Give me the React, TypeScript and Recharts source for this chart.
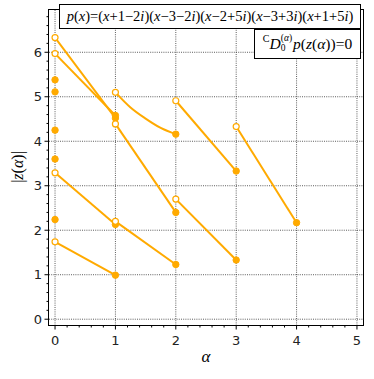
import React from 'react';
import { ComposedChart, Line, Scatter, XAxis, YAxis, CartesianGrid } from 'recharts';

// axis ticks
const majorX = [0, 1, 2, 3, 4, 5];
const minorX = [0.2, 0.4, 0.6, 0.8, 1.2, 1.4, 1.6, 1.8, 2.2, 2.4, 2.6, 2.8, 3.2, 3.4, 3.6, 3.8, 4.2, 4.4, 4.6, 4.8];
const majorY = [0, 1, 2, 3, 4, 5, 6];
const minorY = [0.2, 0.4, 0.6, 0.8, 1.2, 1.4, 1.6, 1.8, 2.2, 2.4, 2.6, 2.8, 3.2, 3.4, 3.6, 3.8, 4.2, 4.4, 4.6, 4.8, 5.2, 5.4, 5.6, 5.8, 6.2, 6.4, 6.6, 6.8];

// root trajectories |z(alpha)| over alpha, start (open) -> end (filled)
const seg1 = [{ a: 0, z: 6.33 }, { a: 1, z: 4.52 }];
const seg2 = [{ a: 0, z: 5.97 }, { a: 1, z: 4.58 }];
const seg3 = [{ a: 0, z: 3.29 }, { a: 1, z: 2.13 }];
const seg4 = [{ a: 0, z: 1.74 }, { a: 1, z: 0.99 }];
const seg5 = [{ a: 1, z: 5.1 }, { a: 1.25, z: 4.76 }, { a: 1.5, z: 4.51 }, { a: 1.75, z: 4.3 }, { a: 2, z: 4.16 }];
const seg6 = [{ a: 1, z: 4.39 }, { a: 2, z: 2.4 }];
const seg7 = [{ a: 1, z: 2.2 }, { a: 2, z: 1.23 }];
const seg8 = [{ a: 2, z: 4.91 }, { a: 3, z: 3.33 }];
const seg9 = [{ a: 2, z: 2.7 }, { a: 3, z: 1.33 }];
const seg10 = [{ a: 3, z: 4.33 }, { a: 4, z: 2.17 }];
const segments = [seg1, seg2, seg3, seg4, seg5, seg6, seg7, seg8, seg9, seg10];

// lone filled points at alpha = 0
const lonePoints = [
  { a: 0, z: 5.38 },
  { a: 0, z: 5.11 },
  { a: 0, z: 4.25 },
  { a: 0, z: 3.6 },
  { a: 0, z: 2.24 },
];

const polyText = 'p(x)=(x+1−2i)(x−3−2i)(x−2+5i)(x−3+3i)(x+1+5i)';

const ORANGE = '#FFAA00';
const W = 374;
const H = 379;
const PL = 49, PT = 10, PR = 363, PB = 325;

const mathify = (s: string) =>
  s.split('').map((c, i) => (/[a-z]/.test(c) ? <i key={i}>{c}</i> : <span key={i}>{c}</span>));

const XTick = (props: any) => {
  const { x, y, payload } = props;
  const major = majorX.includes(payload.value);
  return (
    <g>
      <line x1={x} x2={x} y1={y} y2={y + (major ? 4.5 : 2.5)} stroke="#000" strokeWidth={1} />
      {major && (
        <text x={x} y={y + 20} textAnchor="middle" fontSize={13} fill="#222" fontFamily="DejaVu Sans">
          {payload.value}
        </text>
      )}
    </g>
  );
};

const YTick = (props: any) => {
  const { x, y, payload } = props;
  const major = majorY.includes(payload.value);
  return (
    <g>
      <line x1={x - (major ? 4.5 : 2.5)} x2={x} y1={y} y2={y} stroke="#000" strokeWidth={1} />
      {major && (
        <text x={x - 7} y={y} dy="0.36em" textAnchor="end" fontSize={13} fill="#222" fontFamily="DejaVu Sans">
          {payload.value}
        </text>
      )}
    </g>
  );
};

const makeDot = (len: number) => (props: any) => {
  const { cx, cy, index } = props;
  if (index === 0)
    return <circle key={`d${index}`} cx={cx} cy={cy} r={3} fill="#fff" stroke={ORANGE} strokeWidth={1.2} />;
  if (index === len - 1)
    return <circle key={`d${index}`} cx={cx} cy={cy} r={3.2} fill={ORANGE} stroke={ORANGE} strokeWidth={1} />;
  return <g key={`d${index}`} />;
};

const LoneDot = (props: any) => (
  <circle cx={props.cx} cy={props.cy} r={3.2} fill={ORANGE} stroke={ORANGE} strokeWidth={1} />
);

export default function App() {
  return (
    <div style={{ position: 'absolute', left: 0, top: 0, width: W, height: H, background: '#fff' }}>
      <ComposedChart width={W} height={H} margin={{ top: PT, right: W - PR, left: 0, bottom: 0 }}>
        <CartesianGrid
          verticalValues={majorX}
          horizontalValues={majorY}
          stroke="#333"
          strokeWidth={0.8}
          strokeDasharray="1 1.2"
        />
        <XAxis
          type="number"
          dataKey="a"
          domain={[-0.1, 5.1]}
          ticks={[...majorX, ...minorX].sort((p, q) => p - q)}
          interval={0}
          allowDataOverflow
          axisLine={false}
          tickLine={false}
          tickSize={0}
          tickMargin={0}
          height={H - PB}
          tick={<XTick />}
        />
        <YAxis
          type="number"
          dataKey="z"
          domain={[-0.13, 6.95]}
          ticks={[...majorY, ...minorY].sort((p, q) => p - q)}
          interval={0}
          allowDataOverflow
          axisLine={false}
          tickLine={false}
          tickSize={0}
          tickMargin={0}
          width={PL}
          tick={<YTick />}
        />
        {segments.map((s, i) => (
          <Line
            key={i}
            data={s}
            dataKey="z"
            type={s.length > 2 ? 'monotone' : 'linear'}
            stroke={ORANGE}
            strokeWidth={2}
            dot={makeDot(s.length)}
            activeDot={false}
            isAnimationActive={false}
          />
        ))}
        <Scatter data={lonePoints} dataKey="z" fill={ORANGE} shape={<LoneDot />} isAnimationActive={false}
          legendType="none" />
      </ComposedChart>

      {/* frame */}
      <div
        style={{
          position: 'absolute', left: PL - 0.75, top: PT - 0.75, width: PR - PL, height: PB - PT,
          border: '1.5px solid #000', pointerEvents: 'none',
        }}
      />

      {/* axis labels */}
      <div style={{ position: 'absolute', left: 0, width: W, paddingLeft: PL, top: 347, boxSizing: 'border-box' }}>
        <div style={{ width: PR - PL, textAlign: 'center', fontFamily: 'Liberation Serif', fontStyle: 'italic', fontSize: 17 }}>α</div>
      </div>
      <div
        style={{
          position: 'absolute', left: 17.5, top: 167, transform: 'translate(-50%, -50%) rotate(-90deg)',
          fontFamily: 'Liberation Serif', fontSize: 16, whiteSpace: 'nowrap',
        }}
      >
        |<i>z</i>(<i>α</i>)|
      </div>

      {/* legend boxes */}
      <div
        style={{
          position: 'absolute', left: 59, top: 4, width: 302, height: 25, boxSizing: 'border-box',
          border: '1.5px solid #000', background: '#fff', fontFamily: 'Liberation Serif', fontSize: 14.5,
          display: 'flex', alignItems: 'center', justifyContent: 'center', whiteSpace: 'nowrap',
        }}
      >
        {mathify(polyText)}
      </div>
      <div
        style={{
          position: 'absolute', left: 254, top: 28.5, width: 107, height: 30, boxSizing: 'border-box',
          border: '1.5px solid #000', background: '#fff', fontFamily: 'Liberation Serif', fontSize: 15.5,
          display: 'flex', alignItems: 'center', justifyContent: 'center', whiteSpace: 'nowrap',
        }}
      >
        <span style={{ fontSize: 10, position: 'relative', top: -5 }}>C</span>
        <i>D</i>
        <span style={{ display: 'inline-flex', flexDirection: 'column', fontSize: 9.5, lineHeight: 1, marginRight: 1 }}>
          <span>
            (<i>α</i>)
          </span>
          <span>0</span>
        </span>
        <i>p</i>(<i>z</i>(<i>α</i>))=0
      </div>
    </div>
  );
}
